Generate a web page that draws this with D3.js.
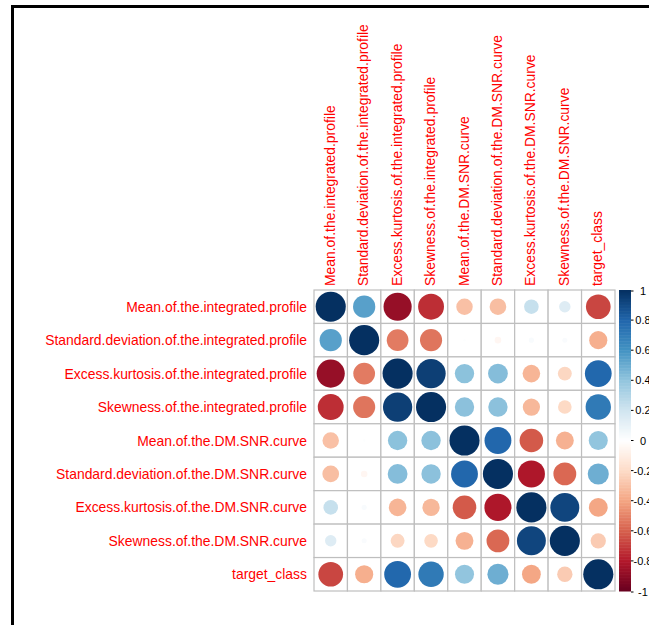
<!DOCTYPE html>
<html>
<head>
<meta charset="utf-8">
<script src="https://cdn.jsdelivr.net/npm/d3@7/dist/d3.min.js"></script>
<style>
  html, body { margin: 0; padding: 0; background: #ffffff; }
  svg { display: block; }
  text { font-family: "Liberation Sans", Arial, Helvetica, sans-serif; }
</style>
</head>
<body>
<svg id="chart" width="649" height="625"></svg>
<script>
// ---- data ----
const variables = [
  "Mean.of.the.integrated.profile",
  "Standard.deviation.of.the.integrated.profile",
  "Excess.kurtosis.of.the.integrated.profile",
  "Skewness.of.the.integrated.profile",
  "Mean.of.the.DM.SNR.curve",
  "Standard.deviation.of.the.DM.SNR.curve",
  "Excess.kurtosis.of.the.DM.SNR.curve",
  "Skewness.of.the.DM.SNR.curve",
  "target_class"
];
const rowMeanIP   = [ 1.000,  0.547, -0.874, -0.739, -0.299, -0.307,  0.234,  0.144, -0.673];
const rowSdIP     = [ 0.547,  1.000, -0.521, -0.540,  0.007, -0.048,  0.029,  0.028, -0.364];
const rowKurtIP   = [-0.874, -0.521,  1.000,  0.946,  0.414,  0.433, -0.341, -0.214,  0.792];
const rowSkewIP   = [-0.739, -0.540,  0.946,  1.000,  0.415,  0.415, -0.329, -0.205,  0.710];
const rowMeanDM   = [-0.299,  0.007,  0.414,  0.415,  1.000,  0.797, -0.616, -0.354,  0.401];
const rowSdDM     = [-0.307, -0.048,  0.433,  0.415,  0.797,  1.000, -0.810, -0.576,  0.492];
const rowKurtDM   = [ 0.234,  0.029, -0.341, -0.329, -0.616, -0.810,  1.000,  0.924, -0.391];
const rowSkewDM   = [ 0.144,  0.028, -0.214, -0.205, -0.354, -0.576,  0.924,  1.000, -0.259];
const rowTarget   = [-0.673, -0.364,  0.792,  0.710,  0.401,  0.492, -0.391, -0.259,  1.000];
const corrRows = [rowMeanIP, rowSdIP, rowKurtIP, rowSkewIP, rowMeanDM, rowSdDM, rowKurtDM, rowSkewDM, rowTarget];
const legendTicks = [1, 0.8, 0.6, 0.4, 0.2, 0, -0.2, -0.4, -0.6, -0.8, -1];
const legendLabels = ["1", "0.8", "0.6", "0.4", "0.2", "0", "-0.2", "-0.4", "-0.6", "-0.8", "-1"];
const paletteStops = ["#67001F", "#B2182B", "#D6604D", "#F4A582", "#FDDBC7", "#FFFFFF",
                      "#D1E5F0", "#92C5DE", "#4393C3", "#2166AC", "#053061"];

// ---- layout ----
const svg = d3.select("#chart");
const gx0 = 314, gx1 = 615, gy0 = 290, gy1 = 591;

const x = d3.scaleBand().domain(variables).range([gx0, gx1]).padding(0);
const y = d3.scaleBand().domain(variables).range([gy0, gy1]).padding(0);
const cell = x.bandwidth();

const color = d3.scaleLinear()
  .domain(d3.range(11).map(i => -1 + i * 0.2))
  .range(paletteStops)
  .interpolate(d3.interpolateRgb)
  .clamp(true);
const rScale = d3.scaleSqrt().domain([0, 1]).range([0, 0.45 * cell]);

// frame lines (screenshot border)
svg.append("rect").attr("x", 11).attr("y", 5).attr("width", 638).attr("height", 3).attr("fill", "#000");
svg.append("rect").attr("x", 11).attr("y", 5).attr("width", 3).attr("height", 620).attr("fill", "#000");

// cells
const cells = [];
corrRows.forEach((row, i) => row.forEach((v, j) => cells.push({ r: variables[i], c: variables[j], v })));

svg.append("g").selectAll("rect").data(cells).join("rect")
  .attr("x", d => x(d.c)).attr("y", d => y(d.r))
  .attr("width", cell).attr("height", cell)
  .attr("fill", "#fff").attr("stroke", "#bebebe").attr("stroke-width", 1.2);

svg.append("g").selectAll("circle").data(cells).join("circle")
  .attr("cx", d => x(d.c) + cell / 2)
  .attr("cy", d => y(d.r) + cell / 2)
  .attr("r", d => rScale(Math.abs(d.v)))
  .attr("fill", d => color(d.v));

// row labels
svg.append("g").selectAll("text").data(variables).join("text")
  .attr("x", gx0 - 7)
  .attr("y", d => y(d) + cell / 2)
  .attr("text-anchor", "end")
  .attr("dominant-baseline", "central")
  .attr("font-size", "13.9px")
  .attr("fill", "#ff0000")
  .text(d => d);

// column labels
svg.append("g").selectAll("text").data(variables).join("text")
  .attr("transform", d => `translate(${x(d) + cell / 2 - 1},${gy0 - 4}) rotate(-90)`)
  .attr("text-anchor", "start")
  .attr("dominant-baseline", "central")
  .attr("font-size", "13.9px")
  .attr("fill", "#ff0000")
  .text(d => d);

// color legend
const lx0 = 619, lx1 = 631;
const ly = d3.scaleLinear().domain([-1, 1]).range([gy1, gy0]);
const nSteps = 200;
const steps = d3.range(nSteps).map(i => -1 + (i + 0.5) * 2 / nSteps);
svg.append("g").selectAll("rect").data(steps).join("rect")
  .attr("x", lx0).attr("width", lx1 - lx0)
  .attr("y", d => ly(d + 1 / nSteps))
  .attr("height", (gy1 - gy0) / nSteps + 0.5)
  .attr("fill", d => color(d));

const tg = svg.append("g");
tg.selectAll("line").data(legendTicks).join("line")
  .attr("x1", lx1).attr("x2", lx1 + 2.5)
  .attr("y1", d => ly(d) + (Math.abs(d) === 1 ? 1 : 0))
  .attr("y2", d => ly(d) + (Math.abs(d) === 1 ? 1 : 0))
  .attr("stroke", "#000").attr("stroke-width", 1);
tg.selectAll("text").data(legendTicks).join("text")
  .attr("x", 643)
  .attr("y", d => ly(d) + (Math.abs(d) === 1 ? 1 : 0))
  .attr("text-anchor", "middle")
  .attr("dominant-baseline", "central")
  .attr("font-size", "11px")
  .attr("fill", "#000")
  .text((d, i) => legendLabels[i]);
</script>
</body>
</html>
